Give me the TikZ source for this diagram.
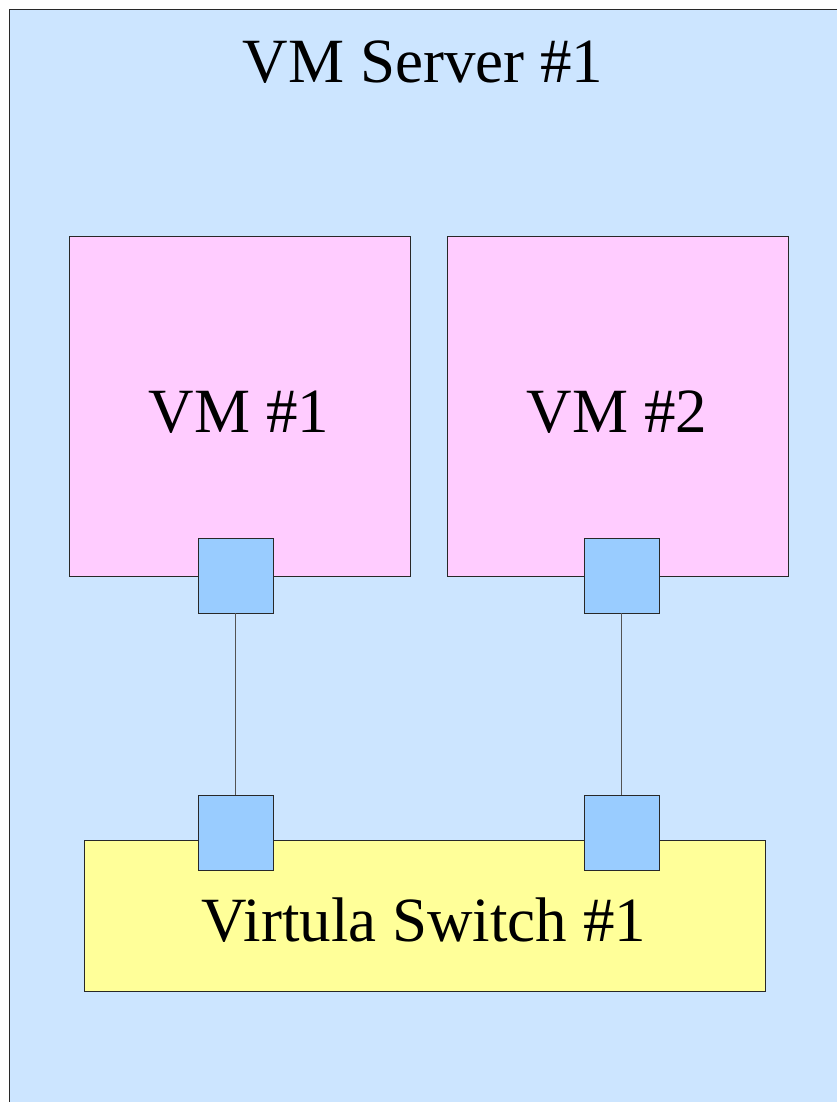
\documentclass[tikz,border=0pt]{standalone}
\usepackage{fontspec}
\setmainfont{Liberation Serif}
\definecolor{serverblue}{RGB}{204,229,255}
\definecolor{vmpink}{RGB}{255,204,255}
\definecolor{portblue}{RGB}{153,204,255}
\definecolor{switchyellow}{RGB}{255,255,153}
\definecolor{edgegray}{RGB}{40,40,40}
\begin{document}
\begin{tikzpicture}[x=1pt,y=-1pt,
  box/.style={draw=edgegray,line width=0.9pt},
  lbl/.style={font=\fontsize{63}{70}\selectfont,inner sep=0pt,anchor=center},
  wire/.style={draw=edgegray!80,line width=1.2pt}]
\useasboundingbox (0,0) rectangle (837,1102);
\fill[white] (0,0) rectangle (837,1102);
\begin{scope}
\clip (0,0) rectangle (837,1102);
\draw[box,fill=serverblue] (9,9) rectangle (860,1130);
\end{scope}
\node[lbl] (title) at (423,62) {VM Server \#1};
% VMs
\draw[box,fill=vmpink] (69,236) rectangle (410,576);
\coordinate (vm1) at (239.5,406);
\node[lbl] (vm1t) at (239,412) {VM \#1};
\draw[box,fill=vmpink] (447,236) rectangle (788,576);
\node[lbl] (vm2t) at (617,412) {VM \#2};
% switch
\draw[box,fill=switchyellow] (84,840) rectangle (765,991);
\node[lbl] (swt) at (424,920) {Virtula Switch \#1};
% ports
\node[box,fill=portblue,minimum size=75pt,inner sep=0pt] (p1) at (235.5,575.5) {};
\node[box,fill=portblue,minimum size=75pt,inner sep=0pt] (p2) at (621.5,575.5) {};
\node[box,fill=portblue,minimum size=75pt,inner sep=0pt] (s1) at (235.5,832.5) {};
\node[box,fill=portblue,minimum size=75pt,inner sep=0pt] (s2) at (621.5,832.5) {};
\draw[wire] (p1.south) -- (s1.north);
\draw[wire] (p2.south) -- (s2.north);
\end{tikzpicture}
\end{document}
